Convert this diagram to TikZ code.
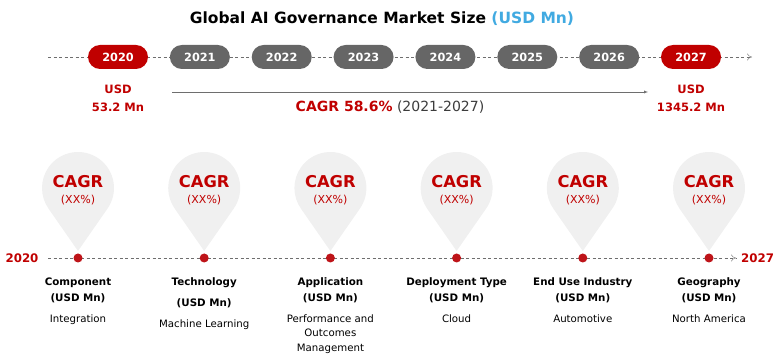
\documentclass[tikz,border=0pt]{standalone}
\usepackage{fontspec}
\setmainfont{DejaVu Sans}
\usetikzlibrary{arrows.meta}
\definecolor{mred}{RGB}{192,0,0}
\definecolor{dotred}{RGB}{190,20,25}
\definecolor{pillgray}{RGB}{102,102,102}
\definecolor{pinfill}{RGB}{240,240,240}
\definecolor{linegray}{RGB}{110,110,110}
\definecolor{usdblue}{RGB}{65,170,225}
\definecolor{txtgray}{RGB}{60,60,60}
\tikzset{
  title/.style={font=\fontsize{15.5}{18}\selectfont\bfseries},
  year/.style={rounded corners=12pt,minimum width=60pt,minimum height=24pt,inner sep=0pt,text=white,font=\fontsize{11.3}{13}\selectfont\bfseries},
  usd/.style={align=center,text=mred,font=\fontsize{11.5}{18}\selectfont\bfseries},
  dashline/.style={linegray,dashed,dash pattern=on 3pt off 2.5pt,-{To[length=5pt,width=7pt]}},
  pincagr/.style={text=mred,font=\fontsize{16.3}{18}\selectfont\bfseries},
  pinxx/.style={text=mred,font=\fontsize{11}{13}\selectfont},
  dot/.style={circle,fill=dotred,minimum size=9pt,inner sep=0pt},
  seghead/.style={align=center,font=\fontsize{10.3}{15}\selectfont\bfseries},
  segsub/.style={align=center,anchor=north,font=\fontsize{10.2}{14.5}\selectfont},
  edgeyear/.style={text=mred,font=\fontsize{11.8}{13}\selectfont\bfseries}
}
\begin{document}
\begin{tikzpicture}[x=1pt,y=-1pt,>=latex]
  \useasboundingbox (0,0) rectangle (780,358);
  \path (382,19) node[title](title){Global AI Governance Market Size \textcolor{usdblue}{(USD Mn)}};
  % top timeline
  \coordinate (top-start) at (48,57);
  \coordinate (top-end) at (752,57);
  \draw[dashline] (top-start) -- (top-end);
  \foreach \yr/\col [count=\i from 0] in {2020/mred,2021/pillgray,2022/pillgray,2023/pillgray,2024/pillgray,2025/pillgray,2026/pillgray,2027/mred}
    \path (118+81.86*\i,57) node[year,fill=\col](y\yr){\yr};
  \path (118,98) node[usd](v2020){USD\\53.2 Mn};
  \path (691,98) node[usd](v2027){USD\\1345.2 Mn};
  \coordinate (cagr-start) at (172,92);
  \coordinate (cagr-end) at (648,92);
  \draw[->,linegray,thin] (cagr-start) -- (cagr-end);
  \path (390,107) node[text=txtgray,font=\fontsize{14}{16}\selectfont](cagr){\textcolor{mred}{\bfseries CAGR 58.6\%} (2021-2027)};
  % bottom timeline
  \coordinate (bot-start) at (48,258);
  \coordinate (bot-end) at (736,258);
  \draw[dashline] (bot-start) -- (bot-end);
  \path (22,258) node[edgeyear](b2020){2020};
  \path (741,258) node[anchor=west,inner sep=0pt,edgeyear](b2027){2027};
  \foreach \seg/\sub/\dy [count=\i from 0] in {Component/Integration/0,Technology/{Machine Learning}/5,Application/{Performance and\\Outcomes\\Management}/0,{Deployment Type}/Cloud/0,{End Use Industry}/Automotive/0,Geography/{North America}/0}{
    \pgfmathsetmacro{\px}{78+126.2*\i}
    \fill[pinfill] (\px,251) -- ([shift={(-35.5:36pt)}]\px,188) arc[start angle=-35.5,end angle=215.5,radius=36pt] -- cycle;
    \path (\px,182) node[pincagr](c\i){CAGR};
    \path (\px,200) node[pinxx](x\i){(XX\%)};
    \path (\px,258) node[dot](d\i){};
    \path (\px,283) node[seghead](s\i){\seg};
    \path (\px,298+\dy) node[seghead](u\i){(USD Mn)};
    \path (\px,311+\dy) node[segsub](t\i){\sub};
  }
\end{tikzpicture}
\end{document}
